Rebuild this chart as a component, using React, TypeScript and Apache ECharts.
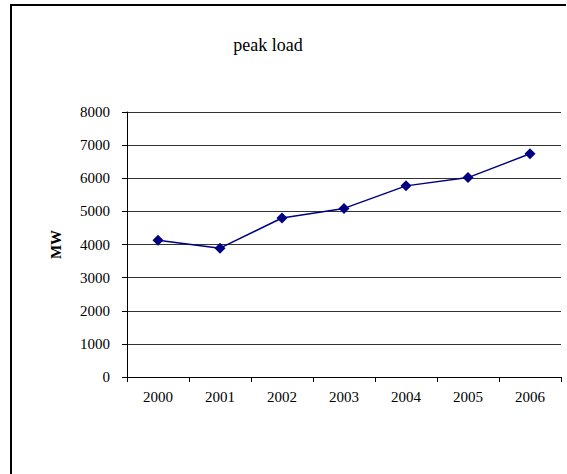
import React, { useEffect, useRef } from "react";
import * as echarts from "echarts";

const years = ["2000", "2001", "2002", "2003", "2004", "2005", "2006"];
const peakLoad = [4130, 3890, 4800, 5090, 5770, 6020, 6740];
const yTicks = { min: 0, max: 8000, interval: 1000 };

export default function App() {
  const ref = useRef<HTMLDivElement>(null);
  useEffect(() => {
    if (!ref.current) return;
    const chart = echarts.init(ref.current, undefined, { renderer: "svg" });
    const font = "Liberation Serif";
    chart.setOption({
      animation: false,
      backgroundColor: "#ffffff",
      textStyle: { fontFamily: font },
      title: {
        text: "peak load",
        left: 263,
        textAlign: "center",
        top: 31,
        textStyle: { fontFamily: font, fontSize: 18, fontWeight: "normal", color: "#000" },
      },
      graphic: [
        { type: "line", shape: { x1: 11, y1: 5, x2: 566, y2: 5 }, style: { stroke: "#000", lineWidth: 2 } },
        { type: "line", shape: { x1: 11, y1: 4, x2: 11, y2: 474 }, style: { stroke: "#000", lineWidth: 2 } },
      ],
      grid: { left: 127, right: 6, top: 112, bottom: 97 },
      xAxis: {
        type: "category",
        data: years,
        boundaryGap: true,
        axisLine: { lineStyle: { color: "#000", width: 1 } },
        axisTick: { show: true, length: 5, lineStyle: { color: "#000" } },
        axisLabel: { fontFamily: font, fontSize: 15, color: "#000", margin: 12 },
        splitLine: { show: false },
      },
      yAxis: {
        type: "value",
        min: yTicks.min,
        max: yTicks.max,
        interval: yTicks.interval,
        name: "MW",
        nameLocation: "middle",
        nameGap: 64,
        nameRotate: 90,
        nameTextStyle: { fontFamily: font, fontSize: 15, fontWeight: "bold", color: "#000" },
        axisLine: { show: true, lineStyle: { color: "#000", width: 1 } },
        axisTick: { show: true, length: 5, lineStyle: { color: "#000" } },
        axisLabel: {
          fontFamily: font,
          fontSize: 15,
          color: "#000",
          margin: 17,
          formatter: (v: number) => String(v),
        },
        splitLine: { show: true, lineStyle: { color: "#333", width: 1 } },
      },
      series: [
        {
          type: "line",
          data: peakLoad,
          symbol: "diamond",
          symbolSize: 11,
          lineStyle: { color: "#000080", width: 1.5 },
          itemStyle: { color: "#000080" },
        },
      ],
    });
    return () => chart.dispose();
  }, []);
  return (
    <div
      ref={ref}
      style={{ position: "fixed", left: 0, top: 0, width: 567, height: 474 }}
    />
  );
}
